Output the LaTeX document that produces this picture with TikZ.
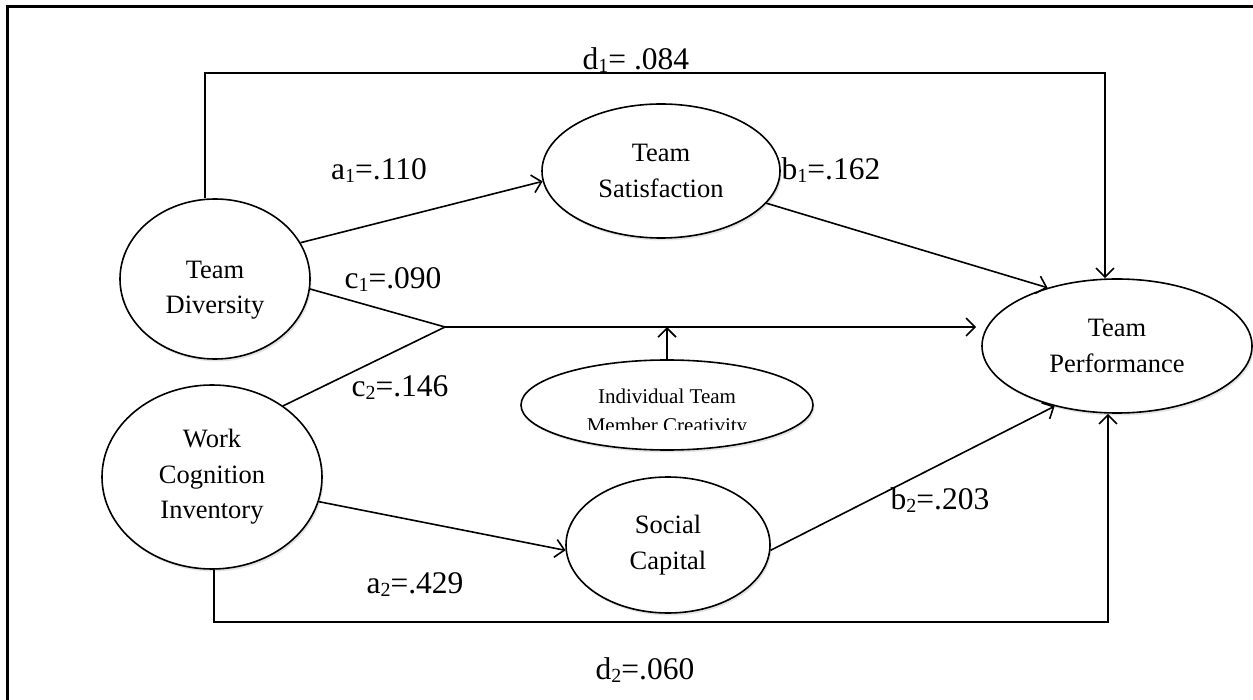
\documentclass[tikz,border=0pt]{standalone}
\usepackage{fontspec}
\setmainfont{Liberation Serif}
\usetikzlibrary{arrows.meta,shapes.geometric,shadows}

% subscript index set in Word style
\newcommand{\lowidx}[1]{\raisebox{-3pt}{\fontsize{20}{20}\selectfont #1}}
\newcommand{\lblfont}{\fontsize{31.5}{36}\selectfont}
\newcommand{\varfont}{\fontsize{26.5}{35.5}\selectfont}

\tikzset{
  var/.style={ellipse, draw, line width=1.6pt, fill=white, inner sep=0pt,
    align=center, font=\varfont,
    drop shadow={shadow xshift=1.5pt, shadow yshift=-2.5pt, opacity=0.22}},
  vartext/.style={align=center, font=\varfont, anchor=base, inner sep=0pt},
  link/.style={line width=1.6pt},
  arr/.style={link, -{Straight Barb[length=9pt,width=18pt,line width=1.6pt]}},
  coef/.style={font=\lblfont, anchor=base, inner sep=0pt},
  frame/.style={line width=2.6pt}
}

\begin{document}
\begin{tikzpicture}[x=1pt,y=-1pt]
\useasboundingbox (0,0) rectangle (1253,700);

% outer frame
\draw[frame] (7.7,700) -- (7.7,6.5) -- (1253,6.5);

% variables
\node[var, minimum width=190pt, minimum height=160pt] (td) at (215,279) {};
\node[vartext] (tdtext) at (215,314) {Team\\Diversity};
\node[var, minimum width=220pt, minimum height=184pt] (wci) at (212,477) {Work\\Cognition\\Inventory};
\node[var, minimum width=238pt, minimum height=134pt] (ts) at (661,171) {Team\\Satisfaction};
\node[var, minimum width=270pt, minimum height=134pt] (tp) at (1117,346) {Team\\Performance};
\node[var, minimum width=204pt, minimum height=136pt] (sc) at (668,545) {Social\\Capital};
\node[var, minimum width=292pt, minimum height=90pt] (itmc) at (667,405) {};

% moderator label, cut off at the foot of its text box
\begin{scope}
  \clip (itmc.west |- 0,370) rectangle (itmc.east |- 0,429);
  \node[align=center, font=\fontsize{21}{29}\selectfont, anchor=base, inner sep=0pt]
    (itmctext) at (667,432) {Individual Team\\Member Creativity};
\end{scope}

% direct paths
\coordinate (d1a) at (205,73);
\coordinate (d1b) at (1105,73);
\draw[arr] (td.north -| d1a) -- (d1a) -- (d1b) -- (tp.north -| d1b);
\coordinate (d2a) at (214,622);
\coordinate (d2b) at (1108,622);
\draw[arr] (wci.south -| d2a) -- (d2a) -- (d2b) -- (tp.south -| d2b);

% mediated paths
\draw[arr] (td.23) -- (ts.185);
\draw[arr] (ts.343) -- (tp.140);
\draw[arr] (wci.347) -- (sc.183);
\draw[arr] (sc.357) -- (tp.224);

% joint path with moderator
\coordinate (jn) at (445,327);
\draw[link] (td.354) -- (jn);
\draw[link] (wci.45) -- (jn);
\draw[arr, shorten >=5pt] (jn) -- (jn -| tp.west);
\coordinate (md) at (itmc.north |- jn);
\draw[arr] (itmc.north) -- (md);

% coefficients
\node[coef] (la1) at (379,180) {a\lowidx{1}=.110};
\node[coef] (lb1) at (831,180) {b\lowidx{1}=.162};
\node[coef] (lc1) at (393,289) {c\lowidx{1}=.090};
\node[coef] (lc2) at (400,396) {c\lowidx{2}=.146};
\node[coef] (la2) at (415,593) {a\lowidx{2}=.429};
\node[coef] (lb2) at (940,509) {b\lowidx{2}=.203};
\node[coef] (ld1) at (636,70) {d\lowidx{1}= .084};
\node[coef] (ld2) at (645,679) {d\lowidx{2}=.060};
\end{tikzpicture}
\end{document}
